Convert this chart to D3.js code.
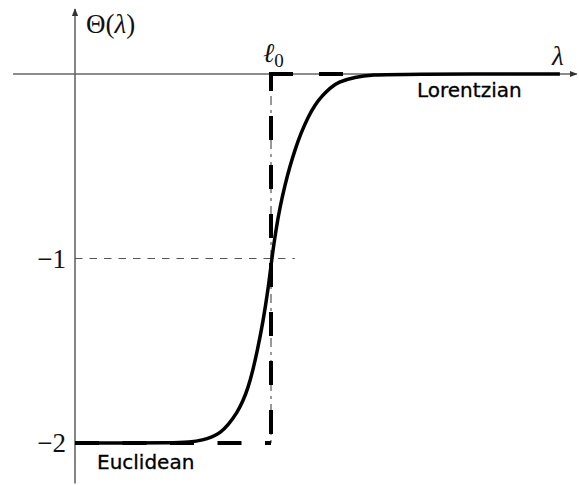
<!DOCTYPE html>
<html>
<head>
<meta charset="utf-8">
<script src="https://cdn.jsdelivr.net/npm/d3@7"></script>
<style>
  body { margin: 0; background: #fff; }
</style>
</head>
<body>
<div id="chart"></div>
<script>
// smooth curve (lambda in units of l0)
var lambda = [0, 0.281, 0.485, 0.587, 0.653, 0.699, 0.740, 0.781, 0.827, 0.857,
              0.883, 0.908, 0.931, 0.959, 0.985, 1.005, 1.026, 1.046, 1.071, 1.097,
              1.122, 1.153, 1.189, 1.224, 1.260, 1.301, 1.342, 1.429, 1.515, 1.658, 2.474];
var theta = [-2, -2, -2, -1.995, -1.984, -1.967, -1.946, -1.902, -1.837, -1.772,
             -1.702, -1.604, -1.496, -1.344, -1.171, -0.992, -0.840, -0.721, -0.602, -0.499,
             -0.412, -0.320, -0.233, -0.168, -0.119, -0.076, -0.043, -0.016, -0.005, 0, 0];

// step function (Euclidean -> Lorentzian)
var stepLambda = [0, 1, 1, 1.5];
var stepTheta = [-2, -2, 0, 0];

var yTicks = [-1, -2];
var l0 = 1;

var width = 579, height = 485;

var svg = d3.select("#chart")
  .append("svg")
    .attr("width", width)
    .attr("height", height);

var x = d3.scaleLinear()
  .domain([0, 1])
  .range([75, 271]);

var y = d3.scaleLinear()
  .domain([-2, 0])
  .range([443, 74]);

// arrow head
svg.append("defs").append("marker")
    .attr("id", "arrow")
    .attr("viewBox", "0 0 10 10")
    .attr("refX", 9).attr("refY", 5)
    .attr("markerWidth", 5).attr("markerHeight", 5)
    .attr("markerUnits", "strokeWidth")
    .attr("orient", "auto")
  .append("path")
    .attr("d", "M0,1 L10,5 L0,9 z")
    .style("fill", "#333");

// axes
svg.append("line")
    .attr("x1", x(-0.316)).attr("x2", x(2.56))
    .attr("y1", y(0)).attr("y2", y(0))
    .style("stroke", "#666")
    .style("stroke-width", 1.6)
    .attr("marker-end", "url(#arrow)");

svg.append("line")
    .attr("x1", x(0)).attr("x2", x(0))
    .attr("y1", y(-2.22)).attr("y2", y(0.352))
    .style("stroke", "#666")
    .style("stroke-width", 1.6)
    .attr("marker-end", "url(#arrow)");

// tick labels
var serif = "'Liberation Serif', serif";
var sans = "'DejaVu Sans', sans-serif";

var yAxis = svg.append("g")
    .attr("transform", "translate(" + x(0) + ",0)")
    .call(d3.axisLeft(y).tickValues(yTicks).tickSize(0).tickPadding(9)
      .tickFormat(function (d) { return "\u2212" + Math.abs(d); }));
yAxis.select(".domain").remove();
yAxis.selectAll("text")
    .style("font-family", serif)
    .style("font-size", "27px")
    .style("fill", "#111");

// thin dashed guide at -1
svg.append("line")
    .attr("x1", x(0)).attr("x2", x(1.122))
    .attr("y1", y(-1)).attr("y2", y(-1))
    .style("stroke", "#555")
    .style("stroke-width", 1.1)
    .style("stroke-dasharray", "7.5,7");

// thin dash-dot guide at l0
svg.append("line")
    .attr("x1", x(l0)).attr("x2", x(l0))
    .attr("y1", y(0)).attr("y2", y(-2))
    .style("stroke", "#333")
    .style("stroke-width", 1)
    .style("stroke-dasharray", "9,5,3,5");

// thick dashed step, drawn in three pieces
svg.append("line")
    .attr("x1", x(stepLambda[0])).attr("x2", x(stepLambda[1]))
    .attr("y1", y(stepTheta[0])).attr("y2", y(stepTheta[1]))
    .style("stroke", "black")
    .style("stroke-width", 4)
    .style("stroke-dasharray", "24,23.5");

svg.append("line")
    .attr("x1", x(stepLambda[1])).attr("x2", x(stepLambda[2]))
    .attr("y1", y(stepTheta[1])).attr("y2", y(stepTheta[2]))
    .style("stroke", "black")
    .style("stroke-width", 4)
    .style("stroke-dasharray", "24,25")
    .style("stroke-dashoffset", 40);

svg.append("line")
    .attr("x1", x(stepLambda[2]) - 2).attr("x2", x(stepLambda[3]))
    .attr("y1", y(stepTheta[2])).attr("y2", y(stepTheta[3]))
    .style("stroke", "black")
    .style("stroke-width", 4)
    .style("stroke-dasharray", "24,26");

// smooth curve
var pts = lambda.map(function (d, i) { return [d, theta[i]]; });
svg.append("path")
    .datum(pts)
    .attr("d", d3.line()
      .x(function (d) { return x(d[0]); })
      .y(function (d) { return y(d[1]); })
      .curve(d3.curveBasis))
    .style("fill", "none")
    .style("stroke", "black")
    .style("stroke-width", 3.5);

// labels
var th = svg.append("text")
    .attr("x", 86).attr("y", 33)
    .style("font-family", serif)
    .style("font-size", "27px")
    .style("fill", "#111");
th.append("tspan").text("\u0398(");
th.append("tspan").style("font-style", "italic").text("\u03bb");
th.append("tspan").text(")");

svg.append("text")
    .attr("x", 552).attr("y", 65)
    .style("font-family", serif)
    .style("font-style", "italic")
    .style("font-size", "27px")
    .style("fill", "#111")
    .text("\u03bb");

var lt = svg.append("text")
    .attr("x", 263).attr("y", 62)
    .style("font-family", serif)
    .style("font-size", "27px")
    .style("fill", "#111");
lt.append("tspan").style("font-style", "italic").text("\u2113");
lt.append("tspan").attr("dy", 5).style("font-size", "19px").text("0");

svg.append("text")
    .attr("x", 417).attr("y", 97)
    .style("font-family", sans)
    .style("font-size", "20px")
    .style("fill", "#000")
    .style("stroke", "#000")
    .style("stroke-width", 0.3)
    .text("Lorentzian");

svg.append("text")
    .attr("x", 97).attr("y", 469)
    .style("font-family", sans)
    .style("font-size", "20px")
    .style("fill", "#000")
    .style("stroke", "#000")
    .style("stroke-width", 0.3)
    .text("Euclidean");
</script>
</body>
</html>
